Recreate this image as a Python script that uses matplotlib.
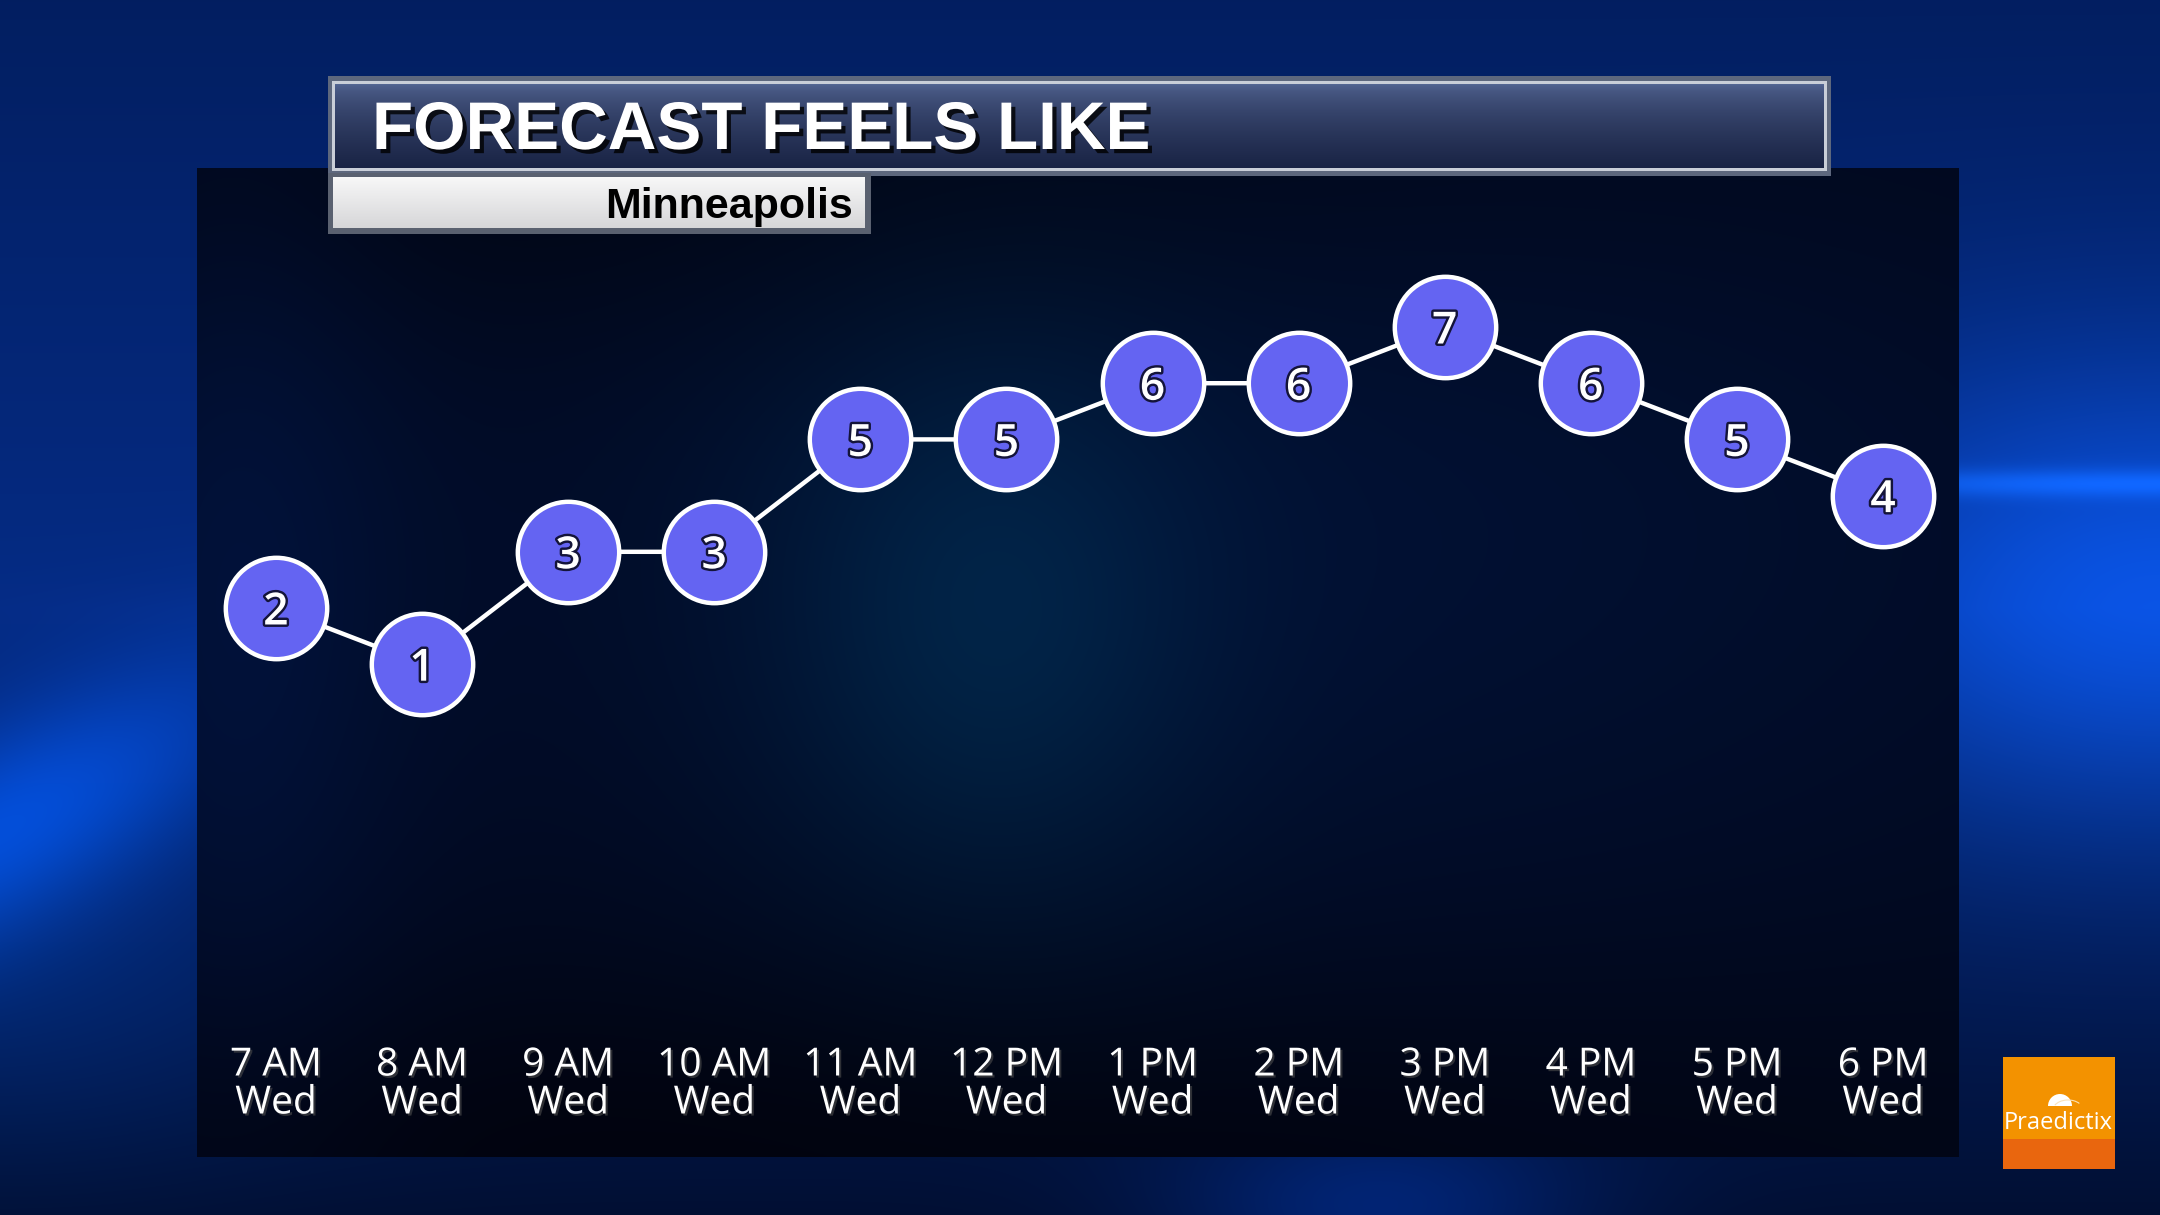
import numpy as np
import matplotlib
matplotlib.use("Agg")
import matplotlib.pyplot as plt
import matplotlib.patheffects as pe
from matplotlib.patches import Rectangle, Wedge, Arc

# ---------------- data ----------------
hours = ["7 AM", "8 AM", "9 AM", "10 AM", "11 AM", "12 PM",
         "1 PM", "2 PM", "3 PM", "4 PM", "5 PM", "6 PM"]
days = ["Wed"] * 12
feels_like = [2, 1, 3, 3, 5, 5, 6, 6, 7, 6, 5, 4]
title = "FORECAST FEELS LIKE"
location = "Minneapolis"
brand = "Praedictix"

W, H = 2160, 1215
fig = plt.figure(figsize=(W / 100, H / 100), dpi=100)

# ---------------- background (decorative) ----------------
yy, xx = np.mgrid[0:H, 0:W].astype(float)

def blob(cx, cy, sx, sy):
    return np.exp(-(((xx - cx) / sx) ** 2 + ((yy - cy) / sy) ** 2) / 2)

t = (yy / H)[..., None]
top = np.array([0.01, 0.12, 0.38])
mid = np.array([0.02, 0.17, 0.52])
bot = np.array([0.005, 0.06, 0.20])
bg = np.where(t < 0.5, top * (1 - t / 0.5) + mid * (t / 0.5),
              mid * (1 - (t - 0.5) / 0.5) + bot * ((t - 0.5) / 0.5))
# left swirl band (brighter, tilted)
band_c = 740 + 0.45 * (200 - xx)
bg += (np.exp(-((yy - band_c) / 110) ** 2) * np.exp(-(xx / 260) ** 2))[..., None] * np.array([0.0, 0.15, 0.38])
bg += blob(0, 980, 220, 140)[..., None] * np.array([0.0, 0.05, 0.12])
# right bright glow and streak
bg += blob(2160, 600, 260, 170)[..., None] * np.array([0.02, 0.16, 0.38])
bg += blob(2100, 483, 320, 10)[..., None] * np.array([0.03, 0.12, 0.22])
# bottom shaft
bg += blob(1380, 1215, 150, 70)[..., None] * np.array([0.0, 0.08, 0.25])
bg = np.clip(bg, 0, 1)

# dark chart panel
px0, px1, py0, py1 = 197, 1959, 168, 1157
dark = np.zeros((H, W, 3))
dark[:] = np.array([0.004, 0.03, 0.11])
dark += blob(990, 620, 150, 200)[..., None] * np.array([0.0, 0.08, 0.09])
dark += blob(1250, 520, 650, 330)[..., None] * np.array([0.0, 0.035, 0.09])
dark += blob(230, 620, 120, 380)[..., None] * np.array([0.0, 0.03, 0.09])
dark -= blob(800, 1157, 900, 140)[..., None] * np.array([0.0, 0.02, 0.06])
dark -= blob(700, 168, 700, 140)[..., None] * np.array([0.0, 0.015, 0.05])
dark = np.clip(dark, 0, 1)
mask = np.zeros((H, W), bool)
mask[py0:py1, px0:px1] = True
bg[mask] = dark[mask]

bax = fig.add_axes([0, 0, 1, 1])
bax.imshow(bg, extent=(0, W, H, 0), aspect="auto", interpolation="bilinear")
bax.set_xlim(0, W)
bax.set_ylim(H, 0)
bax.axis("off")

# title bar
tx0, tx1, ty0, ty1 = 328, 1831, 76, 176
bax.add_patch(Rectangle((tx0, ty0), tx1 - tx0, ty1 - ty0, fc="#5d677d", ec="none", zorder=2))
bax.add_patch(Rectangle((tx0 + 4, ty0 + 5), tx1 - tx0 - 8, ty1 - ty0 - 10, fc="#c9ced8", ec="none", zorder=2))
grad = np.linspace(0, 1, 100)[:, None]
top_c = np.array([0.33, 0.40, 0.58])
bot_c = np.array([0.10, 0.14, 0.27])
g = (top_c[None, None, :] * (1 - grad[..., None] ** 0.6) + bot_c[None, None, :] * grad[..., None] ** 0.6)
g = np.repeat(g, 2, axis=1)
bax.imshow(g, extent=(tx0 + 7, tx1 - 7, ty1 - 8, ty0 + 8), aspect="auto", zorder=3,
           interpolation="bilinear")

# subtitle box
sx0, sx1, sy0, sy1 = 328, 871, 173, 234
bax.add_patch(Rectangle((sx0, sy0), sx1 - sx0, sy1 - sy0, fc="#5a6170", ec="none", zorder=4))
sg_top = np.array([0.97, 0.97, 0.97])
sg_bot = np.array([0.84, 0.84, 0.85])
sg = sg_top[None, None, :] * (1 - grad[..., None]) + sg_bot[None, None, :] * grad[..., None]
sg = np.repeat(sg, 2, axis=1)
bax.imshow(sg, extent=(sx0 + 5, sx1 - 6, sy1 - 6, sy0 + 4), aspect="auto", zorder=5,
           interpolation="bilinear")

bax.text(372, 149, title, fontsize=48.5, fontweight="bold", family="Liberation Sans",
         color="white", va="baseline", ha="left", zorder=6,
         path_effects=[pe.withSimplePatchShadow(offset=(3, -3), shadow_rgbFace="black", alpha=0.8)])
bax.text(853, 218, location, fontsize=31, fontweight="bold", family="Liberation Sans",
         color="black", va="baseline", ha="right", zorder=6)

# logo
lx0, lx1, ly0, ly1 = 2003, 2115, 1057, 1169
bax.add_patch(Rectangle((lx0, ly0), lx1 - lx0, ly1 - ly0, fc="#F39200", ec="none", zorder=2))
bax.add_patch(Rectangle((lx0, 1139), lx1 - lx0, ly1 - 1139, fc="#E9660E", ec="none", zorder=2))
bax.add_patch(Wedge((2060, 1106), 12, 180, 360, fc="white", ec="none", zorder=3))
bax.add_patch(Arc((2068, 1110), 30, 20, theta1=200, theta2=330, color="#fbe2b8", lw=0.8, zorder=3))
bax.text(2058, 1129, brand, fontsize=17, family="Open Sans", color="white",
         ha="center", va="baseline", zorder=3)

# ---------------- chart ----------------
x = np.arange(len(feels_like))
ax = fig.add_axes([px0 / W, 1 - py1 / H, (px1 - px0) / W, (py1 - py0) / H])
ax.set_facecolor("none")
ax.set_xlim(-0.54, 11.52)
ax.set_ylim(-7.77, 9.83)
ax.axis("off")

ax.plot(x, feels_like, color="white", lw=3.2, zorder=2, solid_capstyle="round")
ax.plot(x, feels_like, ls="none", marker="o", ms=73, mfc="#6464F2", mec="white",
        mew=3.2, zorder=3)
for xi, v in zip(x, feels_like):
    ax.text(xi, v, str(v), fontsize=32, fontweight="semibold", family="Open Sans",
            color="white", ha="center", va="center_baseline", zorder=4,
            path_effects=[pe.withStroke(linewidth=3.5, foreground="#14143a")])

tr = ax.get_xaxis_transform()
for xi, h, d in zip(x, hours, days):
    for label, ypx in ((h, 1061), (d, 1099)):
        ax.text(xi, 1 - (ypx - py0) / (py1 - py0), label, transform=tr, fontsize=28,
                family="Open Sans", color="white", ha="center", va="center_baseline",
                path_effects=[pe.withSimplePatchShadow(offset=(1.5, -1.5), alpha=0.6)])

fig.savefig("out.png", dpi=100)
